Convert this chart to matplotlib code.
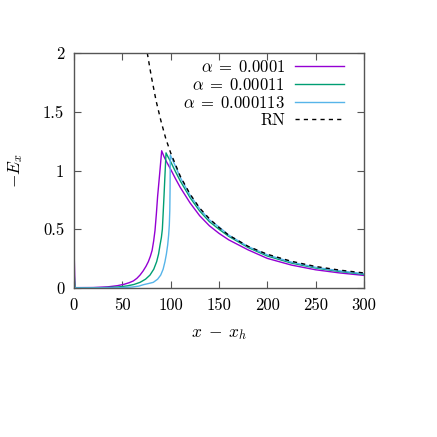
import matplotlib
matplotlib.use("Agg")
import matplotlib.pyplot as plt

plt.rcParams['font.family'] = ['cmr10', 'DejaVu Serif']
plt.rcParams['mathtext.fontset'] = 'cm'
plt.rcParams['axes.unicode_minus'] = False

# ---- data ----
x_a1 = [0, 1, 20, 35, 45, 52, 57, 61.4, 65, 68.3, 71.5, 74.5, 76.9, 79, 80.8, 82.4, 83.8, 85.2, 86.5, 88.6, 90.7,
        93, 96, 100, 105, 110, 120, 130, 140, 150, 160, 180, 200, 225, 250, 275, 300]
y_a1 = [0.35, 0.003, 0.004, 0.01, 0.02, 0.032, 0.045, 0.06, 0.082, 0.11, 0.145, 0.185, 0.224, 0.27, 0.32, 0.40, 0.49, 0.63, 0.78, 0.97, 1.168,
        1.12, 1.07, 1.01, 0.93, 0.855, 0.725, 0.615, 0.53, 0.465, 0.41, 0.325, 0.252, 0.195, 0.155, 0.128, 0.107]

x_a2 = [0, 1, 30, 45, 55, 62, 68.3, 74, 78.6, 82.5, 85.5, 87.5, 89, 90.4, 91.4, 92.2, 93.1, 94.1, 95.2,
        97, 100, 105, 110, 120, 130, 140, 150, 160, 180, 200, 225, 250, 275, 300]
y_a2 = [0.15, 0.002, 0.003, 0.008, 0.018, 0.03, 0.048, 0.075, 0.11, 0.16, 0.224, 0.29, 0.366, 0.43, 0.50, 0.63, 0.78, 0.96, 1.150,
        1.12, 1.075, 0.99, 0.91, 0.77, 0.655, 0.565, 0.50, 0.44, 0.345, 0.272, 0.212, 0.170, 0.140, 0.116]

x_a3 = [0, 1, 45, 60, 67, 71.7, 77, 82, 86.5, 89.7, 92.2, 94.1, 95.6, 96.9, 97.9, 98.6, 99.1, 99.4, 99.6,
        102, 105, 110, 120, 130, 140, 150, 160, 180, 200, 225, 250, 275, 300]
y_a3 = [0.04, 0.001, 0.002, 0.008, 0.016, 0.028, 0.038, 0.048, 0.075, 0.11, 0.16, 0.224, 0.29, 0.366, 0.45, 0.536, 0.66, 0.85, 1.132,
        1.09, 1.035, 0.94, 0.79, 0.675, 0.58, 0.52, 0.45, 0.353, 0.282, 0.22, 0.176, 0.146, 0.121]

x_rn = [75.8, 80, 85, 90, 95, 100, 110, 120, 130, 140, 150, 160, 180, 200, 225, 250, 275, 300]
y_rn = [2.0, 1.80, 1.59, 1.42, 1.27, 1.15, 0.95, 0.80, 0.68, 0.59, 0.515, 0.45, 0.355, 0.287, 0.227, 0.183, 0.152, 0.128]

labels = [r'$\alpha\;=\;0.0001$', r'$\alpha\;=\;0.00011$', r'$\alpha\;=\;0.000113$', 'RN']
colors = ['#9400D3', '#009E73', '#56B4E9', 'black']

xticks = [0, 50, 100, 150, 200, 250, 300]
xticklabels = ['0', '50', '100', '150', '200', '250', '300']
yticks = [0, 0.5, 1, 1.5, 2]
yticklabels = ['0', '0.5', '1', '1.5', '2']

fig = plt.figure(figsize=(4.37, 4.37), dpi=100)
ax = fig.add_axes([74/437, 1 - 288/437, (364 - 74)/437, (288 - 53)/437])

ax.plot(x_a1, y_a1, color=colors[0], lw=1.0, label=labels[0])
ax.plot(x_a2, y_a2, color=colors[1], lw=1.0, label=labels[1])
ax.plot(x_a3, y_a3, color=colors[2], lw=1.0, label=labels[2])
ax.plot(x_rn, y_rn, color=colors[3], lw=1.0, ls=(0, (3, 3)), label=labels[3])

ax.set_xlim(0, 300)
ax.set_ylim(0, 2)
ax.set_xticks(xticks)
ax.set_xticklabels(xticklabels)
ax.set_yticks(yticks)
ax.set_yticklabels(yticklabels)
ax.tick_params(direction='in', length=5, width=0.8, color='#555555', labelsize=12,
               top=True, right=True, pad=7)
for s in ax.spines.values():
    s.set_color('#555555')
    s.set_linewidth(1.0)

ax.set_xlabel(r'$x\;-\;x_h$', fontsize=12.5, labelpad=10)
ax.set_ylabel(r'$-E_x$', fontsize=12.5, labelpad=13)

leg = ax.legend(loc='upper right', frameon=False, markerfirst=False, fontsize=12,
                handlelength=2.9, handletextpad=0.6, labelspacing=0.12,
                borderaxespad=0.3, bbox_to_anchor=(0.97, 1.025))
for t in leg.get_texts():
    t.set_ha('right')

fig.savefig('out.png', dpi=100)
